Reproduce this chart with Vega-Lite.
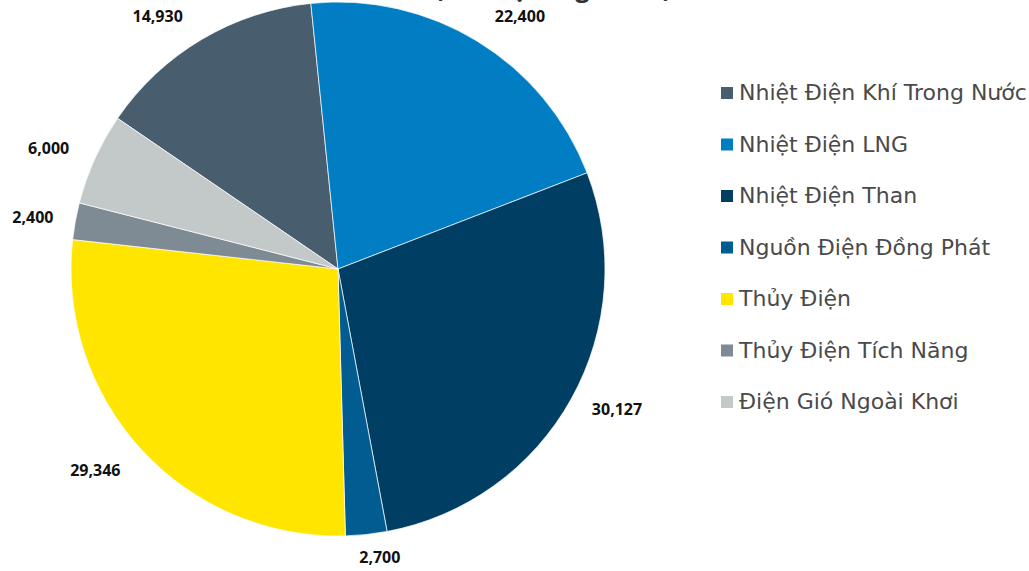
{
  "$schema": "https://vega.github.io/schema/vega-lite/v6.json",
  "width": 676,
  "height": 538,
  "autosize": "none",
  "padding": {"left": 0, "top": 0, "right": 353, "bottom": 33},
  "background": "white",
  "title": {
    "text": "(Đơn vị: Megawatt)",
    "fontSize": 25,
    "font": "Open Sans",
    "fontWeight": "bold",
    "color": "#333333",
    "anchor": "middle",
    "frame": "group",
    "dx": 215,
    "dy": 8,
    "offset": 0
  },
  "data": {
    "values": [
      {"idx": 1, "name": "Nhiệt Điện Khí Trong Nước", "value": 14930},
      {"idx": 2, "name": "Nhiệt Điện LNG", "value": 22400},
      {"idx": 3, "name": "Nhiệt Điện Than", "value": 30127},
      {"idx": 4, "name": "Nguồn Điện Đồng Phát", "value": 2700},
      {"idx": 5, "name": "Thủy Điện", "value": 29346},
      {"idx": 6, "name": "Thủy Điện Tích Năng", "value": 2400},
      {"idx": 7, "name": "Điện Gió Ngoài Khơi", "value": 6000}
    ]
  },
  "encoding": {
    "theta": {"field": "value", "type": "quantitative", "stack": true, "scale": {"range": [5.312, 11.595]}},
    "order": {"field": "idx", "type": "quantitative"}
  },
  "layer": [
    {
      "mark": {"type": "arc", "outerRadius": 267, "stroke": "white", "strokeWidth": 0.7},
      "encoding": {
        "color": {
          "field": "name",
          "type": "nominal",
          "sort": null,
          "scale": {
            "domain": ["Nhiệt Điện Khí Trong Nước", "Nhiệt Điện LNG", "Nhiệt Điện Than", "Nguồn Điện Đồng Phát", "Thủy Điện", "Thủy Điện Tích Năng", "Điện Gió Ngoài Khơi"],
            "range": ["#485d6d", "#007dc3", "#003f63", "#005c91", "#ffe500", "#7e8b94", "#c3c8c8"]
          },
          "legend": {
            "title": null,
            "orient": "none",
            "legendX": 716,
            "legendY": 82,
            "symbolType": "square",
            "symbolSize": 144,
            "symbolStrokeWidth": 0,
            "labelFont": "DejaVu Sans",
            "labelFontSize": 22,
            "labelColor": "#4a4a4a",
            "labelOffset": 1,
            "rowPadding": 29.5,
            "labelLimit": 400,
            "padding": 0
          }
        }
      }
    },
    {
      "mark": {"type": "text", "radius": 300, "dx": -27, "dy": 6, "font": "Open Sans", "fontWeight": "bold", "fontSize": 16, "color": "#111111"},
      "encoding": {"detail": {"field": "name", "type": "nominal"}, "text": {"condition": {"test": "datum.idx == 1", "field": "value", "type": "quantitative", "format": ","}, "value": ""}}
    },
    {
      "mark": {"type": "text", "radius": 300, "dx": 25, "dy": 4, "font": "Open Sans", "fontWeight": "bold", "fontSize": 16, "color": "#111111"},
      "encoding": {"detail": {"field": "name", "type": "nominal"}, "text": {"condition": {"test": "datum.idx == 2", "field": "value", "type": "quantitative", "format": ","}, "value": ""}}
    },
    {
      "mark": {"type": "text", "radius": 300, "dx": 17, "dy": -5, "font": "Open Sans", "fontWeight": "bold", "fontSize": 16, "color": "#111111"},
      "encoding": {"detail": {"field": "name", "type": "nominal"}, "text": {"condition": {"test": "datum.idx == 3", "field": "value", "type": "quantitative", "format": ","}, "value": ""}}
    },
    {
      "mark": {"type": "text", "radius": 300, "dx": 10, "dy": -9, "font": "Open Sans", "fontWeight": "bold", "fontSize": 16, "color": "#111111"},
      "encoding": {"detail": {"field": "name", "type": "nominal"}, "text": {"condition": {"test": "datum.idx == 4", "field": "value", "type": "quantitative", "format": ","}, "value": ""}}
    },
    {
      "mark": {"type": "text", "radius": 300, "dx": -22, "dy": -1, "font": "Open Sans", "fontWeight": "bold", "fontSize": 16, "color": "#111111"},
      "encoding": {"detail": {"field": "name", "type": "nominal"}, "text": {"condition": {"test": "datum.idx == 5", "field": "value", "type": "quantitative", "format": ","}, "value": ""}}
    },
    {
      "mark": {"type": "text", "radius": 300, "dx": -10, "dy": 3, "font": "Open Sans", "fontWeight": "bold", "fontSize": 16, "color": "#111111"},
      "encoding": {"detail": {"field": "name", "type": "nominal"}, "text": {"condition": {"test": "datum.idx == 6", "field": "value", "type": "quantitative", "format": ","}, "value": ""}}
    },
    {
      "mark": {"type": "text", "radius": 300, "dx": -16, "dy": 4, "font": "Open Sans", "fontWeight": "bold", "fontSize": 16, "color": "#111111"},
      "encoding": {"detail": {"field": "name", "type": "nominal"}, "text": {"condition": {"test": "datum.idx == 7", "field": "value", "type": "quantitative", "format": ","}, "value": ""}}
    }
  ]
}
